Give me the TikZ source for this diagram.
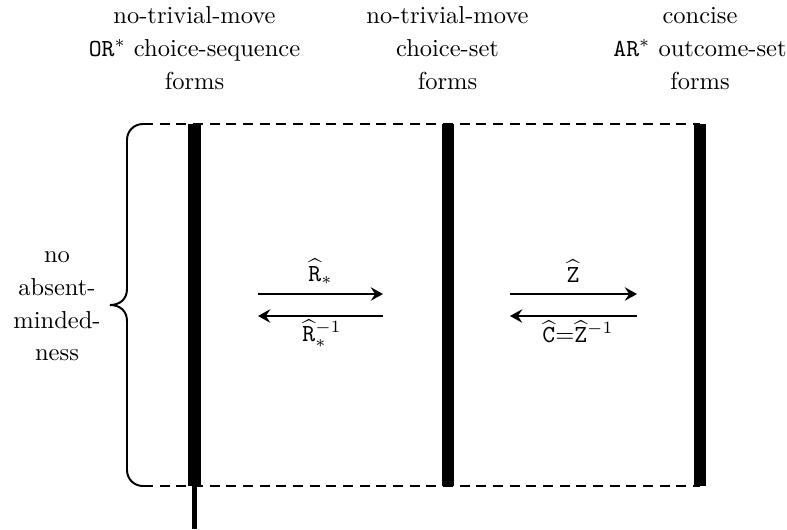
\documentclass[tikz,border=0pt]{standalone}
\usetikzlibrary{arrows.meta}
\begin{document}
\begin{tikzpicture}[x=0.408pt,y=-0.408pt,
  thinline/.style={line width=0.8pt},
  barline/.style={line width=4.9pt, line cap=butt},
  stemline/.style={line width=2.3pt, line cap=butt},
  dashline/.style={line width=0.8pt, dash pattern=on 4.1pt off 2.7pt},
  arr/.style={line width=0.8pt, -{Stealth[length=5pt,width=5.5pt,inset=1.8pt]}},
  hdr/.style={align=center, anchor=north, inner sep=0pt, font=\fontsize{10}{13.5}\selectfont},
  side/.style={align=center, anchor=north, inner sep=0pt, font=\fontsize{10}{13.3}\selectfont},
  lbl/.style={inner sep=0pt, anchor=base}]
\useasboundingbox (0,0) rectangle (787,529);

% headers
\node[hdr] (h1) at (194.5,6) {no-trivial-move\\\texttt{OR}$^*$ choice-sequence\\forms};
\node[hdr] (h2) at (447.5,6) {no-trivial-move\\choice-set\\forms};
\node[hdr] (h3) at (700,6.5) {concise\\\texttt{AR}$^*$ outcome-set\\forms};

% side label
\node[side] (nam) at (57,251.5) {no\\absent-\\minded-\\ness};

% coordinates
\coordinate (b1t) at (194.5,124); \coordinate (b1b) at (194.5,486);
\coordinate (b2t) at (447.5,124); \coordinate (b2b) at (447.5,486);
\coordinate (b3t) at (700,124);   \coordinate (b3b) at (700,486);
\coordinate (dl) at (143,124);    \coordinate (dlb) at (143,486);
\coordinate (stem) at (194.5,529);

% dashed top/bottom
\draw[dashline] (dl) -- (b3t);
\draw[dashline] (dlb) -- (b3b);

% brace
\draw[thinline] (dl) .. controls (134,124) and (127,131) .. (127,140)
  -- (127,289) .. controls (127,299) and (120,305) .. (110,305)
  .. controls (120,305) and (127,311) .. (127,321)
  -- (127,470) .. controls (127,479) and (134,486) .. (dlb);

% bars
\draw[barline] (b1t) -- (b1b);
\draw[barline] (b2t) -- (b2b);
\draw[barline] (b3t) -- (b3b);
\draw[stemline] (b1b) -- (stem);

% arrows
\coordinate (p1) at (258,294); \coordinate (p2) at (383,294);
\coordinate (q1) at (258,316); \coordinate (q2) at (383,316);
\coordinate (p3) at (510,294); \coordinate (p4) at (637,294);
\coordinate (q3) at (510,316); \coordinate (q4) at (637,316);
\draw[arr] (p1) -- (p2);
\draw[arr] (q2) -- (q1);
\draw[arr] (p3) -- (p4);
\draw[arr] (q4) -- (q3);

% arrow labels
\node[lbl] (lR) at (320.5,281) {$\widehat{\mathtt{R}}_*$};
\node[lbl] (lRi) at (322,341.5) {$\widehat{\mathtt{R}}_*^{-1}$};
\node[lbl] (lZ) at (573,282) {$\widehat{\mathtt{Z}}$};
\node[lbl] (lC) at (578,342.5) {$\widehat{\mathtt{C}}{=}\widehat{\mathtt{Z}}^{-1}$};
\end{tikzpicture}
\end{document}
